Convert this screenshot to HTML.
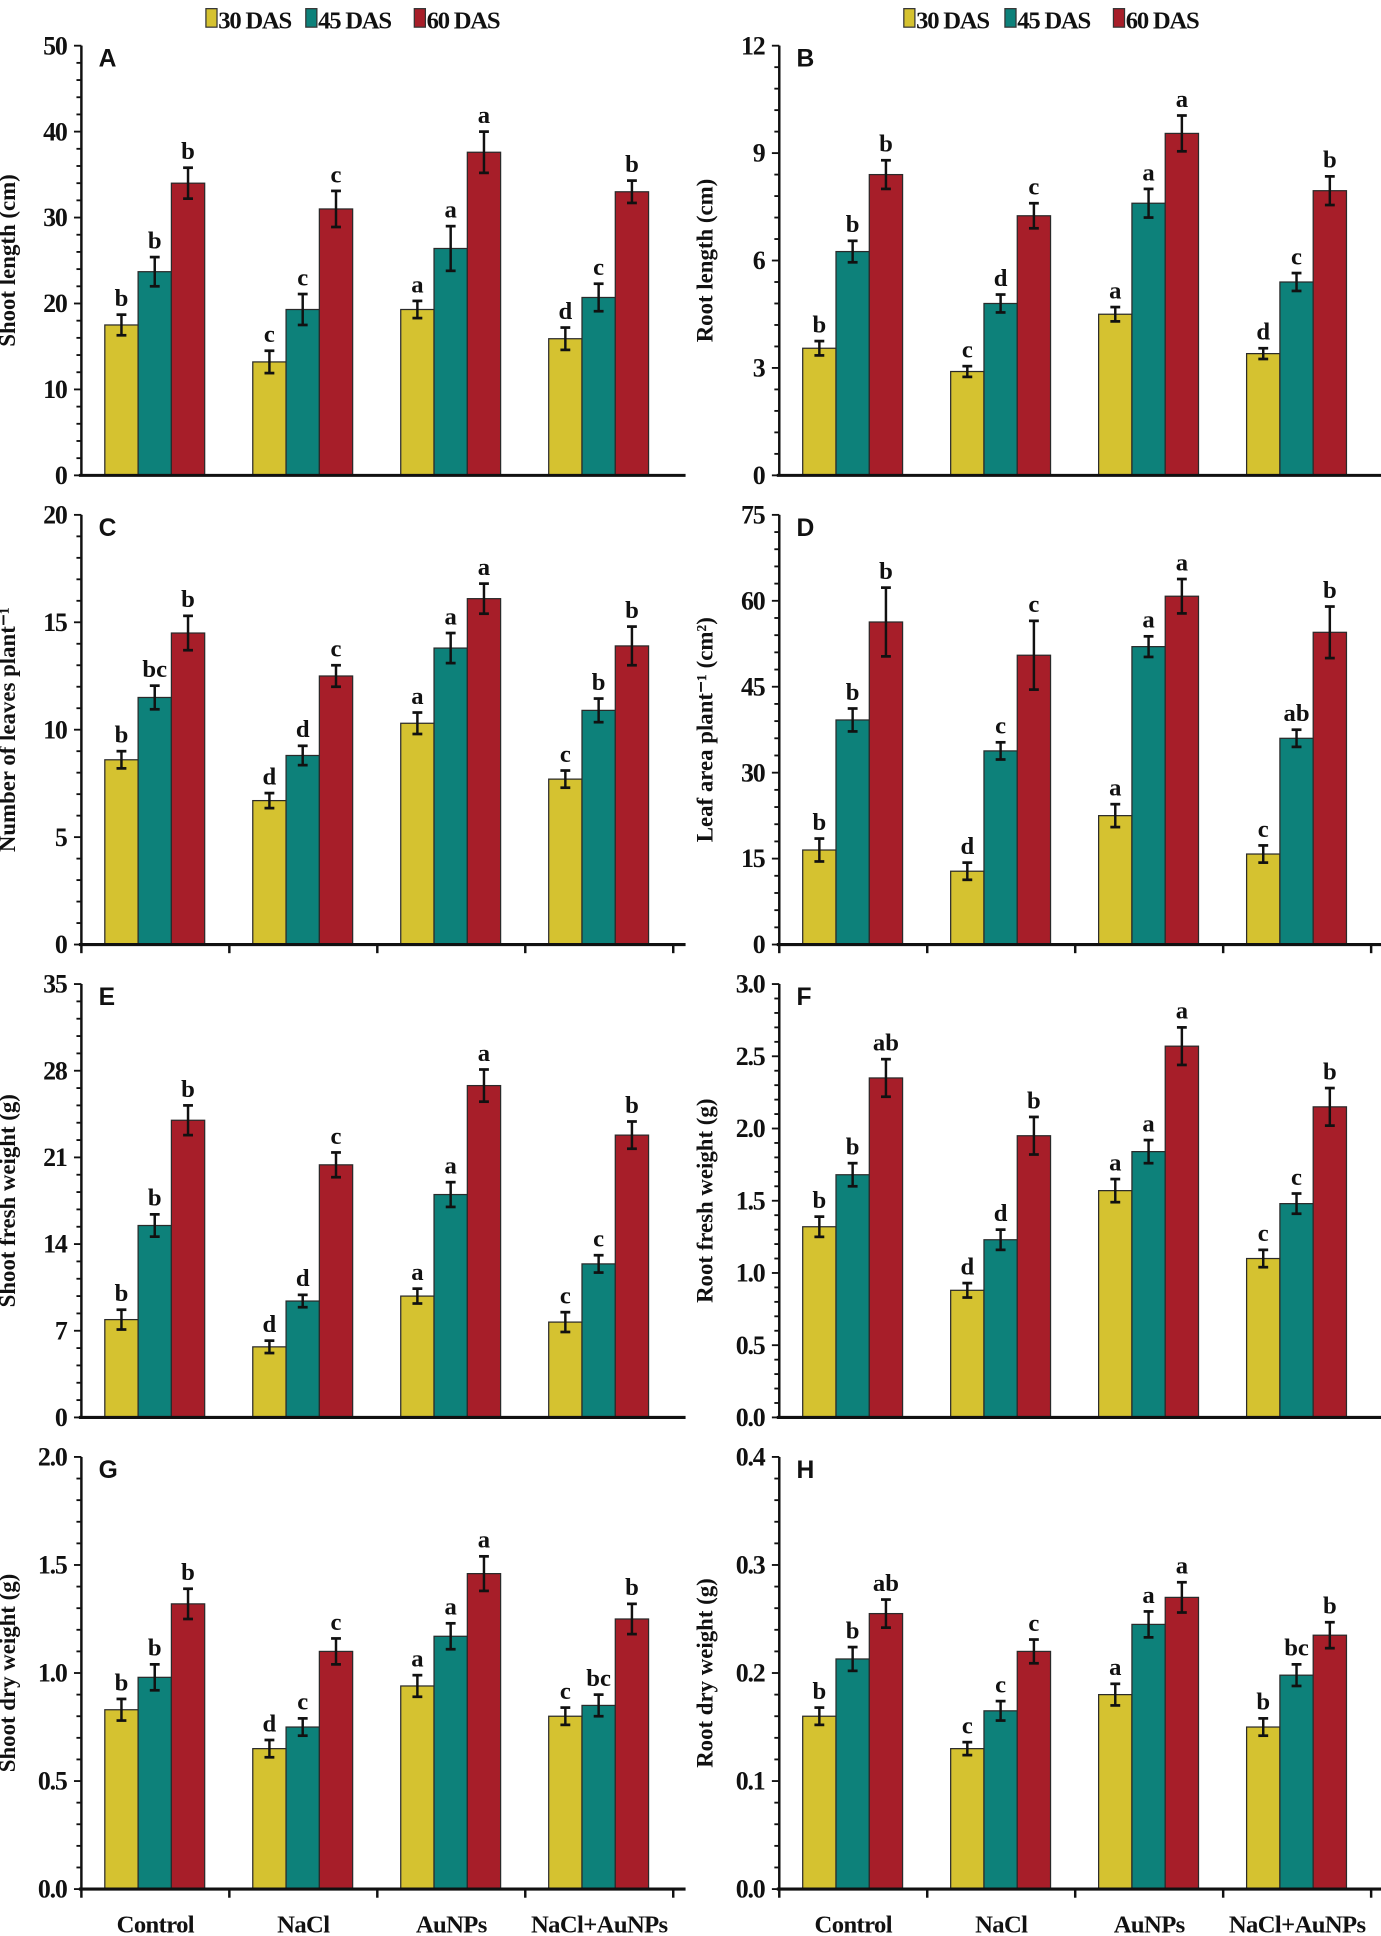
<!DOCTYPE html>
<html><head><meta charset="utf-8"><style>
html,body{margin:0;padding:0;background:#fff;}
svg{display:block;}
text{font-family:"Liberation Serif",serif;font-weight:bold;fill:#111;}
</style></head><body>
<svg id="chart" width="1381" height="1936" viewBox="0 0 1120 1568" preserveAspectRatio="none" xmlns="http://www.w3.org/2000/svg"></svg>
<script>
const categories = ["Control","NaCl","AuNPs","NaCl+AuNPs"];
const seriesNames = ["30 DAS","45 DAS","60 DAS"];
const colors = ["#d5c230","#0d817a","#a71e29"];

const aVals = [[17.5,13.2,19.3,15.9],[23.7,19.3,26.4,20.7],[34,31,37.6,33]];
const aErr = [[1.2,1.3,1.0,1.3],[1.7,1.8,2.6,1.6],[1.8,2.1,2.4,1.3]];
const aLet = [["b","c","a","d"],["b","c","a","c"],["b","c","a","b"]];
const aTicks = [0,10,20,30,40,50];

const bVals = [[3.55,2.9,4.5,3.4],[6.25,4.8,7.6,5.4],[8.4,7.25,9.55,7.95]];
const bErr = [[0.2,0.15,0.2,0.15],[0.3,0.25,0.4,0.25],[0.4,0.35,0.5,0.4]];
const bLet = [["b","c","a","d"],["b","d","a","c"],["b","c","a","b"]];
const bTicks = [0,3,6,9,12];

const cVals = [[8.6,6.7,10.3,7.7],[11.5,8.8,13.8,10.9],[14.5,12.5,16.1,13.9]];
const cErr = [[0.4,0.35,0.5,0.4],[0.55,0.45,0.7,0.55],[0.8,0.5,0.7,0.9]];
const cLet = [["b","d","a","c"],["bc","d","a","b"],["b","c","a","b"]];
const cTicks = [0,5,10,15,20];

const dVals = [[16.5,12.8,22.5,15.8],[39.2,33.8,52,36],[56.3,50.5,60.8,54.5]];
const dErr = [[2,1.5,2,1.5],[2,1.5,1.8,1.5],[6,6,3,4.5]];
const dLet = [["b","d","a","c"],["b","c","a","ab"],["b","c","a","b"]];
const dTicks = [0,15,30,45,60,75];

const eVals = [[7.9,5.7,9.8,7.7],[15.5,9.4,18,12.4],[24,20.4,26.8,22.8]];
const eErr = [[0.8,0.5,0.6,0.8],[0.9,0.5,1,0.7],[1.2,1,1.3,1.1]];
const eLet = [["b","d","a","c"],["b","d","a","c"],["b","c","a","b"]];
const eTicks = [0,7,14,21,28,35];

const fVals = [[1.32,0.88,1.57,1.1],[1.68,1.23,1.84,1.48],[2.35,1.95,2.57,2.15]];
const fErr = [[0.07,0.05,0.08,0.06],[0.08,0.07,0.08,0.07],[0.13,0.13,0.13,0.13]];
const fLet = [["b","d","a","c"],["b","d","a","c"],["ab","b","a","b"]];
const fTicks = ["0.0","0.5","1.0","1.5","2.0","2.5","3.0"];

const gVals = [[0.83,0.65,0.94,0.8],[0.98,0.75,1.17,0.85],[1.32,1.1,1.46,1.25]];
const gErr = [[0.05,0.04,0.05,0.04],[0.06,0.04,0.06,0.05],[0.07,0.06,0.08,0.07]];
const gLet = [["b","d","a","c"],["b","c","a","bc"],["b","c","a","b"]];
const gTicks = ["0.0","0.5","1.0","1.5","2.0"];

const hVals = [[0.16,0.13,0.18,0.15],[0.213,0.165,0.245,0.198],[0.255,0.22,0.27,0.235]];
const hErr = [[0.008,0.006,0.01,0.008],[0.011,0.009,0.012,0.01],[0.013,0.011,0.014,0.012]];
const hLet = [["b","c","a","b"],["b","c","a","bc"],["ab","c","a","b"]];
const hTicks = ["0.0","0.1","0.2","0.3","0.4"];

const svg = document.getElementById('chart');
const NS = "http://www.w3.org/2000/svg";
function mk(tag, attrs, parent){
  const e = document.createElementNS(NS, tag);
  for (const k in attrs) e.setAttribute(k, attrs[k]);
  (parent||svg).appendChild(e);
  return e;
}

const panels = [
  {id:"A",vals:aVals,err:aErr,let:aLet,ticks:aTicks,title:"Shoot length (cm)",col:0,row:0,xt:false},
  {id:"B",vals:bVals,err:bErr,let:bLet,ticks:bTicks,title:"Root length (cm)",col:1,row:0,xt:false},
  {id:"C",vals:cVals,err:cErr,let:cLet,ticks:cTicks,title:"Number of leaves plant⁻¹",col:0,row:1,xt:true},
  {id:"D",vals:dVals,err:dErr,let:dLet,ticks:dTicks,title:"Leaf area plant⁻¹ (cm²)",col:1,row:1,xt:true},
  {id:"E",vals:eVals,err:eErr,let:eLet,ticks:eTicks,title:"Shoot fresh weight (g)",col:0,row:2,xt:false},
  {id:"F",vals:fVals,err:fErr,let:fLet,ticks:fTicks,title:"Root fresh weight (g)",col:1,row:2,xt:false},
  {id:"G",vals:gVals,err:gErr,let:gLet,ticks:gTicks,title:"Shoot dry weight (g)",col:0,row:3,xt:true},
  {id:"H",vals:hVals,err:hErr,let:hLet,ticks:hTicks,title:"Root dry weight (g)",col:1,row:3,xt:true}
];
const axX = [66,632];
const tops = [37,417,797,1180];
const bots = [385,765,1148,1530];

panels.forEach(p=>{
  const g = mk('g',{});
  
  
  const x0 = axX[p.col], top = tops[p.row], bot = bots[p.row];
  const tnum = p.ticks.map(Number);
  const tmax = tnum[tnum.length-1];
  const y = v => bot - (v/tmax)*(bot-top);
  const gw = 120;
  const xg = i => x0 + gw*i + gw/2;
  for (let s=0;s<3;s++){
    for (let i=0;i<4;i++){
      const v = p.vals[s][i], e = p.err[s][i];
      const bx = xg(i) - 41 + s*27;
      const r = mk('rect',{x:bx,y:y(v),width:27,height:bot-y(v),fill:colors[s],stroke:"#2a2a2a","stroke-width":1},g);
      
      
      const cx = bx+13.5;
      mk('line',{x1:cx,x2:cx,y1:y(v+e),y2:y(v-e),stroke:"#111","stroke-width":2},g);
      mk('line',{x1:cx-4,x2:cx+4,y1:y(v+e),y2:y(v+e),stroke:"#111","stroke-width":2.2},g);
      mk('line',{x1:cx-4,x2:cx+4,y1:y(v-e),y2:y(v-e),stroke:"#111","stroke-width":2.2},g);
      const t = mk('text',{x:cx,y:y(v+e)-7,"text-anchor":"middle","font-size":20},g);
      t.textContent = p.let[s][i];
      
      
    }
  }
  const ya = mk('line',{x1:x0,x2:x0,y1:top,y2:bot,stroke:"#111","stroke-width":2},g);
  
  
  const xa = mk('line',{x1:x0-2,x2:x0+gw*4+10,y1:bot,y2:bot,stroke:"#111","stroke-width":2.5},g);
  
  
  if (p.xt){ for(let i=0;i<=4;i++) mk('line',{x1:x0+gw*i,x2:x0+gw*i,y1:bot,y2:bot+7,stroke:"#111","stroke-width":2},g); }
  const n = tnum.length-1;
  for (let k=0;k<n*5;k++){
    const v = tmax*k/(n*5);
    mk('line',{x1:x0-(k%5===0?6:4),x2:x0,y1:y(v),y2:y(v),stroke:"#111","stroke-width":1.5},g);
  }
  mk('line',{x1:x0-6,x2:x0,y1:top,y2:top,stroke:"#111","stroke-width":1.5},g);
  p.ticks.forEach((tk)=>{
    const t = mk('text',{x:x0-12,y:y(Number(tk))+7,"text-anchor":"end","font-size":21,style:"letter-spacing:-1px"},g);
    t.textContent = tk;
    
    
  });
  const tx = x0-54, ty = (top+bot)/2;
  const tt = mk('text',{x:tx,y:ty,"text-anchor":"middle","font-size":18.5,transform:`rotate(-90 ${tx} ${ty})`},g);
  tt.textContent = p.title;
  
  
  const pl = mk('text',{x:x0+14,y:top+17,"font-size":20,style:"font-family:'Liberation Sans',sans-serif"},g);
  pl.textContent = p.id;
  
  
  if (p.row===3){
    categories.forEach((c,i)=>{
      const t = mk('text',{x:xg(i),y:1565,"text-anchor":"middle","font-size":20,style:"letter-spacing:-0.5px"},g);
      t.textContent = c;
      
      
    });
  }
});

[[167,248,336],[733,815,903]].forEach((xs,li)=>{
  const lg = mk('g',{});
  
  
  xs.forEach((lx,s)=>{
    mk('rect',{x:lx,y:7,width:9,height:15,fill:colors[s],stroke:"#333","stroke-width":1},lg);
    const t = mk('text',{x:lx+10,y:23,"font-size":20,style:"letter-spacing:-1px"},lg);
    t.textContent = seriesNames[s];
    
    
  });
});
</script>
</body></html>
